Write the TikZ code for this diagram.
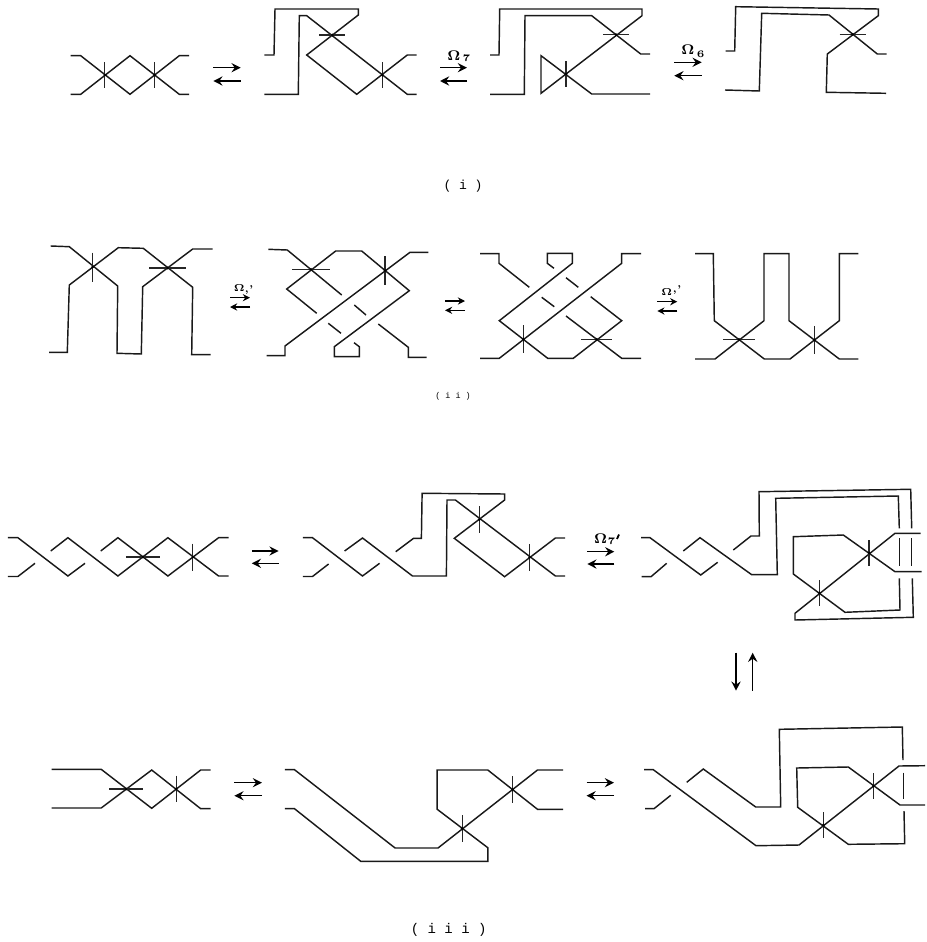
\documentclass[tikz,border=0pt]{standalone}
\usepackage{fontspec}
\setmonofont{Liberation Mono}
\usetikzlibrary{arrows.meta}
\tikzset{
 knot/.style={line width=0.72pt,line join=miter,black!90},
 marker/.style={line width=0.55pt,black!85},
 rel/.style={line width=0.78pt,black,-{Stealth[length=4.6pt,width=4.6pt,inset=1.6pt]}},
 rellight/.style={line width=0.7pt,black,-{Stealth[length=3.6pt,width=3.6pt,inset=1.2pt]}},
 capt/.style={inner sep=0pt,font=\ttfamily\fontsize{6}{6}\selectfont},
 om/.style={inner sep=0pt,font=\fontsize{7}{7}\selectfont},
 omsmall/.style={inner sep=0pt,font=\fontsize{5}{5}\selectfont}
}
\newcommand{\BOm}{{\boldmath$\Omega$}}
\newcommand{\VT}[3]{\draw[marker] (#1,#2-#3) -- (#1,#2+#3); \fill (#1,#2) circle[radius=1.5];}
\newcommand{\HT}[3]{\draw[marker] (#1-#3,#2) -- (#1+#3,#2); \fill (#1,#2) circle[radius=1.5];}
\newcommand{\RelPair}[5][rel]{\draw[#1] (#2,#4) -- (#3,#4); \draw[#1] (#3,#5) -- (#2,#5);}
\begin{document}
\begin{tikzpicture}[x=0.5pt,y=-0.5pt]
\useasboundingbox (0,0) rectangle (926,942);
% ---------- (i) ----------
\draw[knot] (70.7,55.7)--(80.7,55.7)--(130,94.3)--(179.3,55.7)--(189,55.7);
\draw[knot] (70.7,94.3)--(80.7,94.3)--(130,55.7)--(179.3,94.3)--(189,94.3);
\VT{104.8}{75}{13}\VT{154.5}{75}{13}
\RelPair{213.3}{240.7}{67.7}{81}
\draw[knot] (264.3,55)--(274,55)--(275,9)--(358.3,9)--(358.3,15)--(306.7,55)--(356.7,94.3)--(407.3,55)--(416.7,55);
\draw[knot] (264.3,94.3)--(298.3,94.3)--(299.3,15.7)--(306.7,15.7)--(407.3,94.3)--(416.7,94.3);
\HT{332.3}{35}{13}\VT{382.3}{75}{13}
\RelPair{440}{467}{67.7}{81}
\node[om] (om1) at (454,56) {\BOm};
\node[omsmall] (om1s) at (466.5,58.5) {\textbf{7}};
\draw[knot] (490,55)--(499,55)--(499.7,9)--(642,9)--(642,15.7)--(566,74)--(541,93.3)--(541,55.7)--(591.7,94)--(650,94);
\draw[knot] (490,94.3)--(524.3,94.3)--(525,15.7)--(591.7,15.7)--(640.7,54)--(650,54);
\HT{616}{34.7}{13}\VT{566}{74}{13}
\RelPair{674.3}{701.7}{62.3}{75.7}
\node[om] (om2) at (688,50) {\BOm};
\node[omsmall] (om2s) at (700.7,54) {\textbf{6}};
\draw[knot] (725.7,51)--(734.7,51)--(735.7,6.7)--(878.3,9)--(878.3,15.7)--(827.3,54)--(826.3,92.3)--(886,93.3);
\draw[knot] (725,90)--(759.3,91)--(761.7,13.3)--(829,15)--(877.3,54)--(886.7,54);
\HT{852.7}{34.3}{13}
\node[capt,font=\ttfamily\fontsize{6.5}{6.5}\selectfont] (c1) at (463,186) {( i )};
% ---------- (ii) ----------
\draw[knot] (50.7,246)--(69.3,246.7)--(117.7,286)--(117,353.3)--(141.3,354)--(142.7,286.7)--(192.7,249)--(212.7,249);
\draw[knot] (49,352.3)--(67.3,352.3)--(69.3,285)--(118.3,247.7)--(143.3,248.3)--(192.7,287.3)--(191.7,354.7)--(210.7,354.7);
\VT{92.7}{267}{14.5}\HT{167.7}{268}{18.7}
\RelPair[rellight]{230}{250}{297.7}{307}
\node[omsmall] (om3) at (239.3,288.3) {\BOm};
\node[omsmall] (om3s) at (249,289.5) {\textbf{,'}};
\draw[knot] (268.3,249.3)--(287.3,250)--(341.7,295);
\draw[knot] (354.3,305)--(366,315);
\draw[knot] (378.3,324)--(408.3,347.3)--(408.3,357.3)--(426.7,357.3);
\draw[knot] (428.3,252.3)--(410,252.3)--(285,346)--(285,355.7)--(266.7,355.7);
\draw[knot] (316.7,313.3)--(286.7,289)--(335.7,251)--(361.7,251)--(409.3,290.7)--(334.3,346.7)--(334.3,356.7)--(359.3,356.7)--(359.3,346.7)--(354,342.7);
\draw[knot] (328.3,323.3)--(341,333.3);
\HT{311}{269.3}{18.7}\VT{385}{270.7}{14.5}
\RelPair[rellight]{445}{465}{301}{310.3}
\draw[knot] (480,253.7)--(499,253.7)--(499,263.3)--(529.3,287.3);
\draw[knot] (541.7,297.3)--(554.3,306.7);
\draw[knot] (566,316)--(621.7,358.3)--(641,358.3);
\draw[knot] (641,253.7)--(621.7,253.7)--(621.7,263.3)--(499.3,358.3)--(480,358.3);
\draw[knot] (554,268.3)--(547.3,263.3)--(547.3,253.3)--(572.3,253.3)--(572.3,263.3)--(499.3,320.7)--(547.7,358.3)--(573.3,358.3)--(621.7,320.7)--(590.7,296.7);
\draw[knot] (578.3,287.3)--(566,277.7);
\VT{523.3}{339.3}{14}\HT{596.7}{339.3}{15.7}
\node[capt,font=\ttfamily\fontsize{4.2}{4.2}\selectfont] (c2) at (453,396) {( i i )};
\RelPair[rellight]{657.3}{677.3}{301.7}{311}
\node[omsmall] (om4) at (666.7,291.7) {\BOm};
\node[omsmall] (om4s) at (677,290) {\textbf{,'}};
\draw[knot] (695,253.7)--(713.3,253.7)--(714.3,320.7)--(764.3,359)--(790,359)--(839.3,320.7)--(839.3,253.7)--(858.3,253.7);
\draw[knot] (695,359)--(715,359)--(764,320.7)--(764,253.7)--(789,253.7)--(789,320.7)--(839.3,359)--(858.3,359);
\HT{739}{339.3}{16}\VT{814.3}{340}{14.2}
% ---------- (iii), upper row ----------
\draw[knot] (7.9,537.7)--(17.9,537.7)--(67.9,576)--(85,563.3);
\draw[knot] (7.9,576.5)--(17.9,576.5)--(35,563.3);
\draw[knot] (50.7,551)--(67.9,537.7)--(117.9,576)--(167.9,537.7)--(218.6,576)--(228.6,576);
\draw[knot] (100.7,551)--(117.9,537.7)--(167.9,576)--(218.6,537.7)--(228.6,537.7);
\HT{142.9}{557}{17}\VT{192.9}{557}{13.5}
\RelPair{251.8}{278.6}{551}{563.3}
\draw[knot] (302.9,537.7)--(312.5,537.7)--(362.5,576)--(379.6,563.3);
\draw[knot] (302.9,576.5)--(312.5,576.5)--(328.6,564);
\draw[knot] (344.6,551)--(362.5,538)--(412.5,576)--(446.4,576)--(447,500)--(455.4,500)--(555.4,576)--(565,576);
\draw[knot] (395.7,551.7)--(413.6,538.3)--(421.4,538.3)--(422.1,493.3)--(504.6,494)--(504.6,500)--(454.3,538.3)--(504.6,576.7)--(555.4,538)--(565,538);
\VT{479.3}{519.5}{13.5}\VT{529.6}{557.3}{13.5}
\RelPair{587.3}{614.3}{551.7}{564}
\node[om] (om5) at (600.7,539) {\BOm};
\node[omsmall] (om5s) at (611.5,541) {\textbf{7}};
\draw[line width=0.9pt,black] (619,534.5)--(617,539);
\draw[knot] (641,537.7)--(650,537.7)--(700.7,575)--(717.7,562.3);
\draw[knot] (641.7,576.7)--(651,576.7)--(666.7,563.3);
\draw[knot] (683.3,551)--(700,537.7)--(751.7,574.7)--(777.3,574.7)--(775.7,498.3)--(898.3,496)--(899.3,528.3);
\draw[knot] (733.3,550)--(751,536)--(759.3,536)--(759,491.7)--(910.7,489.3)--(911.7,528.3);
\draw[knot] (920.7,533.3)--(895,533.3)--(795,613.3)--(795,620)--(913.3,617.3)--(912.3,578.3);
\draw[knot] (921.7,571.7)--(895,571.7)--(843.3,535)--(793.3,536.7)--(793.3,574)--(845,612.3)--(900,610)--(899.3,578.3);
\draw[knot] (899.3,538.3)--(899.3,566);
\draw[knot] (911.7,538.3)--(911.7,566);
\VT{869}{553}{13}\VT{819.3}{593}{13}
\draw[rel] (736,652.7)--(736,690.7);
\draw[rel] (752.7,690.7)--(752.7,652.7);
% ---------- (iii), lower row ----------
\draw[knot] (51.5,769.3)--(101.2,769.3)--(151.7,808.3)--(200.7,770)--(210.7,770);
\draw[knot] (51.5,808)--(101.2,808)--(151.7,770)--(200.7,808.7)--(210.7,808.7);
\HT{126.1}{789}{17}\VT{176.2}{789}{13.3}
\RelPair{234.4}{262}{782.7}{795.7}
\draw[knot] (284.9,769.7)--(294.5,769.7)--(395.1,848)--(438,848)--(537.5,770)--(563.2,770);
\draw[knot] (284.9,808.7)--(294.5,808.7)--(360.7,861.3)--(487.8,861.3)--(487.8,847.7)--(437.2,809.3)--(437.2,770)--(487.8,770)--(537.5,809.3)--(563.2,809.3);
\VT{462.1}{828.5}{13.3}\VT{512.6}{789.5}{13.3}
\RelPair{586.5}{614}{782.7}{795.7}
\draw[knot] (644,769.7)--(653.3,769.7)--(756,845.7)--(799,845)--(899,766)--(925,765.7);
\draw[knot] (645,808.7)--(654,808.7)--(670.7,795.3);
\draw[knot] (686.7,782.3)--(703.3,769)--(755.7,807)--(780.7,807)--(779.3,729.3)--(902.3,727)--(903,760);
\draw[knot] (925,805)--(900,805)--(848.3,767)--(796.7,768)--(797.7,807.3)--(848.3,844.3)--(904.7,843.7)--(904,811);
\draw[knot] (903.3,772.7)--(903.3,799);
\VT{873.3}{786}{13}\VT{823.3}{825}{13}
\node[capt,font=\ttfamily\fontsize{7}{7}\selectfont] (c3) at (448.7,930) {( i i i )};
\end{tikzpicture}
\end{document}
